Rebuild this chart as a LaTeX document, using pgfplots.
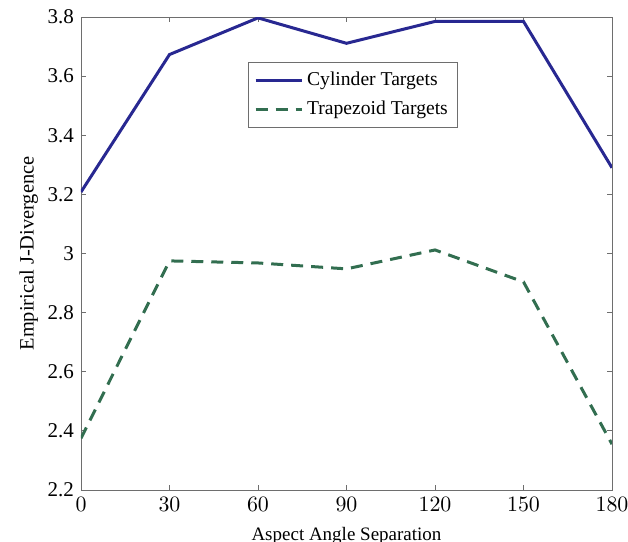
\documentclass[border=0pt]{standalone}
\usepackage[no-math]{fontspec}
\setmainfont{Liberation Serif}
\usepackage{pgfplots}
\pgfplotsset{compat=1.18}
\definecolor{cylblue}{RGB}{40,40,145}
\definecolor{trapgreen}{RGB}{50,110,80}
\definecolor{axgray}{RGB}{110,110,110}
\begin{document}
\begin{tikzpicture}
\begin{axis}[
  scale only axis,
  width=265.5pt, height=236.5pt,
  xmin=0, xmax=180, ymin=2.2, ymax=3.8,
  xtick={0,30,60,90,120,150,180},
  ytick={2.2,2.4,2.6,2.8,3,3.2,3.4,3.6,3.8},
  yticklabels={2.2,2.4,2.6,2.8,3,3.2,3.4,3.6,3.8},
  tick align=inside,
  major tick length=2.5pt,
  axis line style={axgray},
  every tick/.style={axgray},
  tick label style={font=\fontsize{10.5}{12}\selectfont},
  xlabel={Aspect Angle Separation},
  ylabel={Empirical J-Divergence},
  xlabel style={font=\fontsize{9.5}{11}\selectfont, yshift=-1pt},
  ylabel style={font=\fontsize{10.2}{12}\selectfont, yshift=-2pt},
  legend style={at={(0.314,0.905)}, anchor=north west, draw=axgray,
    font=\fontsize{9.8}{11.5}\selectfont, inner xsep=3pt, inner ysep=3pt,
    row sep=2pt},
  legend cell align=left,
  legend image code/.code={\draw[#1] (0pt,0pt) -- (23pt,0pt);},
]
\addplot[cylblue, line width=1.5pt] coordinates {
  (0,3.208) (30,3.673) (60,3.797) (90,3.711) (120,3.785) (150,3.785) (180,3.290)};
\addlegendentry{Cylinder Targets}
\addplot[trapgreen, line width=1.5pt, dash pattern=on 6pt off 4pt] coordinates {
  (0,2.375) (30,2.975) (60,2.968) (90,2.948) (120,3.012) (150,2.904) (180,2.355)};
\addlegendentry{Trapezoid Targets}
\end{axis}
\pgfresetboundingbox
\path (current axis.south west) ++(-40.5pt,-26pt) rectangle ([shift={(8pt,8.5pt)}]current axis.north east);
\end{tikzpicture}
\end{document}
